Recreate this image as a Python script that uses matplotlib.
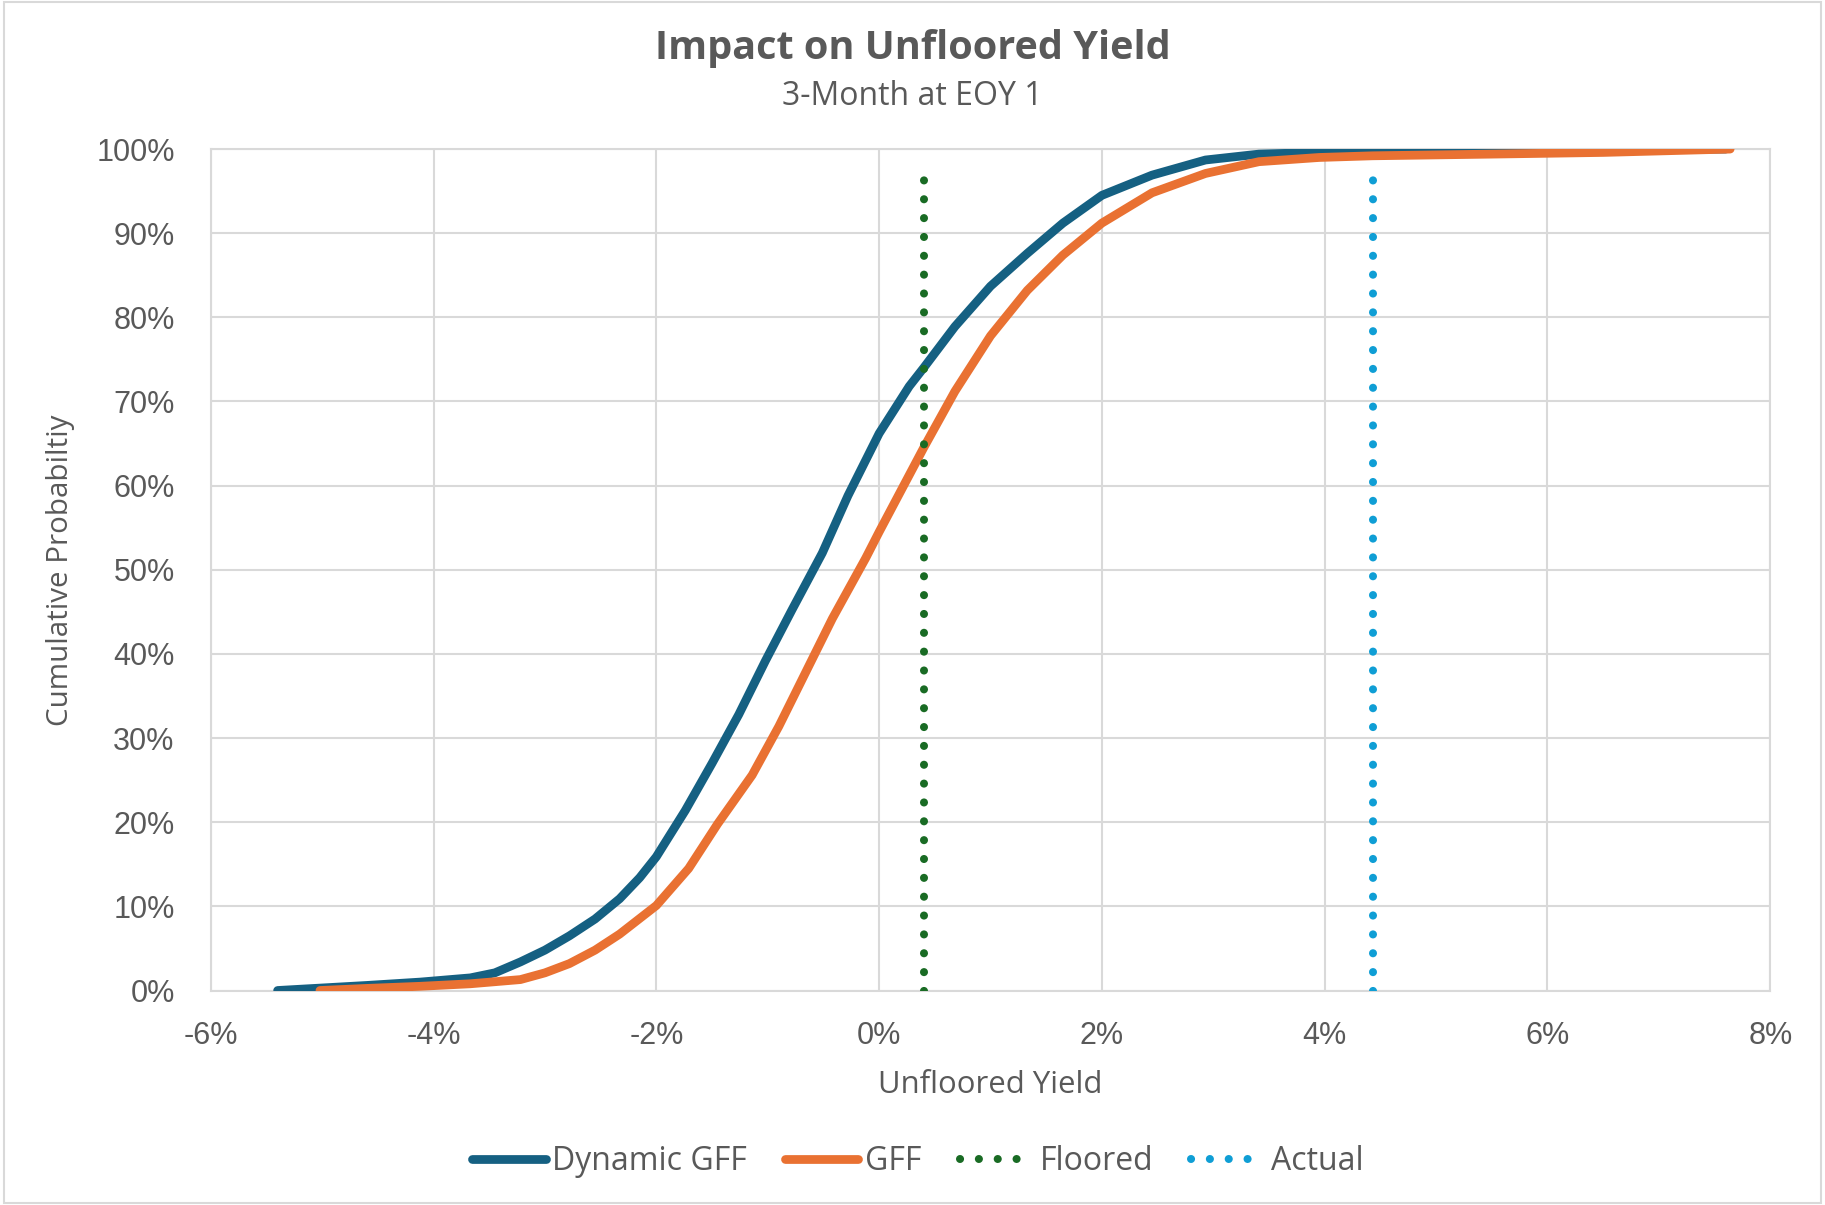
import matplotlib.pyplot as plt
from matplotlib.ticker import PercentFormatter
from matplotlib.patches import Rectangle

# data (yield in %, cumulative probability in %)
dyn_x = [-5.40, -5.0, -4.6, -4.12, -3.67, -3.45, -3.22, -3.0, -2.78, -2.55, -2.33, -2.15,
         -2.0, -1.74, -1.50, -1.26, -1.02, -0.78, -0.51, -0.28, 0.0, 0.27, 0.40, 0.68,
         1.0, 1.33, 1.65, 2.0, 2.45, 2.93, 3.41, 3.95, 5.0, 6.5, 7.6]
dyn_y = [0.0, 0.3, 0.6, 1.0, 1.5, 2.1, 3.4, 4.8, 6.5, 8.5, 10.9, 13.4,
         15.9, 21.4, 27.0, 32.8, 39.2, 45.3, 52.0, 58.8, 66.2, 71.8, 74.0, 78.9,
         83.7, 87.6, 91.2, 94.5, 96.9, 98.7, 99.4, 99.6, 99.8, 99.9, 100.0]
gff_x = [-5.02, -4.6, -4.12, -3.67, -3.22, -3.0, -2.78, -2.55, -2.33, -2.0, -1.71, -1.45,
         -1.14, -0.90, -0.66, -0.42, -0.12, 0.0, 0.2, 0.4, 0.68, 1.0, 1.33, 1.65, 2.0,
         2.45, 2.93, 3.41, 3.95, 4.43, 5.5, 6.5, 7.64]
gff_y = [0.0, 0.25, 0.5, 0.8, 1.3, 2.1, 3.2, 4.8, 6.7, 10.1, 14.5, 19.8,
         25.6, 31.4, 37.8, 44.2, 51.4, 54.5, 59.5, 64.5, 71.2, 77.8, 83.2, 87.4, 91.2,
         94.8, 97.1, 98.5, 99.0, 99.2, 99.4, 99.6, 100.0]
floored = 0.40
actual = 4.43
line_top = 98.0

x_ticks = [-6, -4, -2, 0, 2, 4, 6, 8]
y_ticks = [0, 10, 20, 30, 40, 50, 60, 70, 80, 90, 100]

plt.rcParams['font.family'] = ['Open Sans', 'DejaVu Sans']
plt.rcParams['axes.unicode_minus'] = False
grey = '#595959'

fig = plt.figure(figsize=(18.25, 12.05), dpi=100)
fig.patches.append(Rectangle((0.002, 0.002), 0.996, 0.996, transform=fig.transFigure,
                             fill=False, edgecolor='#D9D9D9', linewidth=1.5))
ax = fig.add_axes([0.1155, 0.178, 0.8545, 0.6983])

ax.plot(dyn_x, dyn_y, color='#156082', lw=6.3, solid_capstyle='round', solid_joinstyle='round',
        label='Dynamic GFF', zorder=3)
ax.plot(gff_x, gff_y, color='#E97132', lw=6.3, solid_capstyle='round', solid_joinstyle='round',
        label='GFF', zorder=3)
ax.plot([floored, floored], [0, line_top], color='#196B24', lw=5.8, linestyle=(0, (0.01, 2.33)),
        dash_capstyle='round', label='Floored', zorder=4)
ax.plot([actual, actual], [0, line_top], color='#0F9ED5', lw=5.8, linestyle=(0, (0.01, 2.33)),
        dash_capstyle='round', label='Actual', zorder=4)

ax.set_xlim(-6, 8)
ax.set_ylim(0, 100)
ax.set_xticks(x_ticks)
ax.set_yticks(y_ticks)
ax.xaxis.set_major_formatter(PercentFormatter(decimals=0))
ax.yaxis.set_major_formatter(PercentFormatter(decimals=0))
ax.grid(color='#D9D9D9', lw=1.5)
ax.set_axisbelow(True)
for s in ax.spines.values():
    s.set_color('#D9D9D9')
    s.set_linewidth(1.5)
ax.tick_params(length=0, labelsize=22, colors=grey)
ax.tick_params(axis='x', pad=22)
ax.tick_params(axis='y', pad=26)
for lbl in ax.get_xticklabels() + ax.get_yticklabels():
    lbl.set_family('Liberation Sans')

fig.text(0.5427, 0.0998, 'Unfloored Yield', ha='center', va='center', fontsize=22.4, color=grey)
fig.text(0.0332, 0.527, 'Cumulative Probabiltiy', ha='center', va='center', rotation=90,
         fontsize=21.3, color=grey)

fig.text(0.5, 0.960, 'Impact on Unfloored Yield', ha='center', va='center',
         fontsize=28.5, fontweight='bold', color=grey)
fig.text(0.5, 0.920, '3-Month at EOY 1', ha='center', va='center', fontsize=23, color=grey)

fig.legend(loc='center', bbox_to_anchor=(0.503, 0.036), ncol=4, frameon=False,
           fontsize=23, labelcolor=grey, handlelength=2.3, columnspacing=1.2, handletextpad=0.2)

fig.savefig('out.png', dpi=100)
